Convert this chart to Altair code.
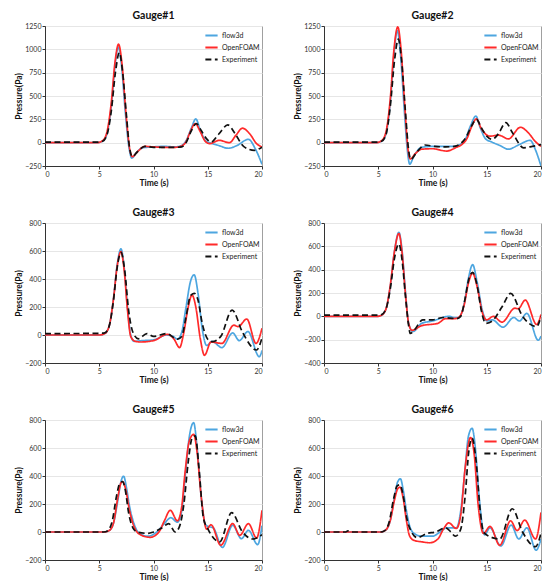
import altair as alt
import pandas as pd

SERIES = ["flow3d", "OpenFOAM", "Experiment"]
COLORS = ["#4da6e0", "#ff2a2a", "#111111"]
DASHES = [[1, 0], [1, 0], [6, 3.5]]

# ---------------- Gauge#1 ----------------
G1_T_F = [0, 4.8, 5.3, 5.7, 6.1, 6.45, 6.75, 7.05, 7.4, 7.75, 8.0, 8.4, 9.0, 10.0, 11.0, 12.0, 12.6, 13.0, 13.5, 13.9, 14.3, 14.8, 15.3, 16.0, 16.9, 17.7, 18.75, 19.4, 20]
G1_P_F = [0, 0, 15, 90, 380, 820, 1025, 830, 330, -60, -165, -110, -55, -45, -40, -45, -30, 20, 160, 255, 140, 20, -5, -30, -60, -30, 36, -70, -232]
G1_T_O = [0, 4.8, 5.3, 5.7, 6.1, 6.45, 6.78, 7.1, 7.45, 7.8, 8.05, 8.5, 9.2, 10.0, 11.0, 12.0, 12.5, 13.0, 13.4, 13.85, 14.3, 14.8, 15.2, 16.05, 17.0, 17.6, 18.2, 18.9, 19.5, 20]
G1_P_O = [0, 0, 20, 110, 420, 860, 1055, 840, 330, -60, -150, -100, -40, -45, -50, -50, -40, 10, 120, 205, 120, 10, -10, 25, 0, 80, 155, 90, -10, -46]
G1_T_E = [0, 4.8, 5.3, 5.7, 6.1, 6.5, 6.85, 7.15, 7.5, 7.8, 8.05, 8.5, 9.2, 10.0, 11.0, 12.0, 12.6, 13.0, 13.5, 13.95, 14.4, 14.9, 15.3, 16.0, 16.85, 17.5, 18.3, 19.3, 20]
G1_P_E = [5, 5, 15, 80, 330, 760, 965, 760, 300, -60, -150, -100, -40, -50, -50, -50, -45, 0, 130, 205, 130, 40, 7, 90, 190, 100, -40, -82, -48]

# ---------------- Gauge#2 ----------------
G2_T_F = [0, 4.8, 5.3, 5.7, 6.1, 6.45, 6.75, 7.05, 7.4, 7.7, 7.9, 8.3, 9.0, 10.0, 11.0, 12.0, 12.6, 13.0, 13.5, 14.0, 14.4, 14.9, 15.4, 16.2, 17.0, 18.0, 19.0, 19.5, 20]
G2_P_F = [0, 0, 15, 90, 420, 950, 1200, 950, 350, -100, -230, -140, -50, -40, -40, -40, -15, 30, 180, 285, 160, 40, 10, -30, -70, -20, 25, -80, -250]
G2_T_O = [0, 4.8, 5.3, 5.7, 6.1, 6.45, 6.8, 7.1, 7.45, 7.75, 7.95, 8.4, 9.0, 10.0, 11.3, 12.2, 12.7, 13.2, 13.6, 14.05, 14.5, 15.3, 16.1, 17.0, 18.1, 18.8, 19.5, 20]
G2_P_O = [0, 0, 20, 110, 460, 1000, 1240, 1000, 380, -80, -175, -120, -70, -65, -90, -50, -20, 50, 170, 255, 150, 70, 80, 40, 165, 110, 10, -40]
G2_T_E = [0, 4.8, 5.3, 5.7, 6.1, 6.5, 6.85, 7.15, 7.5, 7.8, 8.0, 8.5, 9.3, 10.2, 11.2, 12.0, 12.6, 13.1, 13.6, 14.05, 14.5, 15.0, 15.5, 16.1, 16.75, 17.4, 18.4, 19.2, 20]
G2_P_E = [5, 5, 15, 80, 380, 880, 1110, 880, 340, -80, -180, -110, -25, -40, -45, -40, -10, 60, 180, 250, 160, 70, 35, 100, 215, 100, -55, -40, -20]

# ---------------- Gauge#3 ----------------
G3_T_F = [0, 5.0, 5.5, 5.9, 6.3, 6.65, 7.0, 7.3, 7.6, 7.9, 8.2, 9.0, 10.0, 11.2, 11.8, 12.2, 12.6, 13.0, 13.4, 13.75, 14.1, 14.5, 14.9, 15.4, 16.3, 17.3, 17.9, 18.7, 19.75, 20]
G3_P_F = [0, 0, 10, 60, 250, 500, 615, 480, 200, 0, -45, -40, -35, 0, -10, -30, 20, 200, 380, 430, 300, 40, -75, -45, -90, 15, -40, 25, -155, -110]
G3_T_O = [0, 5.0, 5.5, 5.9, 6.3, 6.65, 7.0, 7.3, 7.6, 7.9, 8.3, 8.8, 10.0, 11.3, 11.9, 12.4, 12.8, 13.2, 13.55, 13.9, 14.3, 14.7, 15.3, 16.3, 17.4, 17.8, 18.6, 19.45, 20]
G3_P_O = [0, 0, 10, 60, 250, 490, 595, 460, 180, -10, -45, -50, -40, 5, -30, -90, 20, 200, 285, 200, -20, -145, -50, -60, 70, 60, 114, -60, 48]
G3_T_E = [0, 5.0, 5.5, 5.9, 6.3, 6.65, 7.0, 7.35, 7.7, 8.1, 8.6, 9.4, 10.0, 11.2, 12.2, 12.6, 13.0, 13.4, 13.75, 14.1, 14.5, 15.0, 15.4, 16.2, 17.25, 18.2, 19.5, 20]
G3_P_E = [10, 12, 15, 60, 240, 480, 590, 460, 180, 20, -27, 10, -10, 10, -30, -10, 130, 280, 298, 250, 80, -30, -48, -10, 178, 20, -107, -20]

# ---------------- Gauge#4 ----------------
G4_T_F = [0, 4.9, 5.3, 5.7, 6.1, 6.5, 6.9, 7.2, 7.5, 7.8, 8.2, 9.0, 10.0, 11.5, 12.0, 12.4, 12.9, 13.3, 13.7, 14.1, 14.6, 15.0, 15.5, 16.5, 17.5, 18.0, 18.7, 19.75, 20]
G4_P_F = [0, 0, 10, 60, 250, 560, 720, 560, 220, -60, -130, -60, -40, 0, -10, -10, 100, 320, 443, 300, 50, -40, -30, -93, -10, -40, 25, -205, -170]
G4_T_O = [0, 4.9, 5.3, 5.7, 6.1, 6.5, 6.9, 7.2, 7.5, 7.8, 8.1, 9.0, 10.5, 11.2, 12.0, 12.4, 12.9, 13.3, 13.7, 14.1, 14.6, 15.0, 15.6, 16.4, 17.6, 17.9, 18.55, 19.6, 20]
G4_P_O = [0, 0, 10, 60, 260, 560, 710, 540, 200, -60, -120, -80, -60, -20, -20, -10, 90, 280, 370, 260, 30, -30, 0, -50, 70, 65, 139, -70, 15]
G4_T_E = [0, 4.9, 5.3, 5.7, 6.1, 6.5, 6.9, 7.2, 7.5, 7.8, 7.95, 8.3, 9.1, 10.0, 11.0, 12.2, 12.6, 13.0, 13.35, 13.7, 14.1, 14.5, 14.9, 15.5, 16.4, 17.2, 18.3, 19.6, 20]
G4_P_E = [10, 10, 15, 60, 230, 500, 621, 480, 180, -80, -147, -120, -31, -30, -10, -20, 0, 150, 320, 377, 270, 50, -60, -40, 80, 196, 0, -88, 0]

# ---------------- Gauge#5 ----------------
G5_T_F = [0, 5.4, 5.9, 6.3, 6.7, 7.0, 7.25, 7.5, 7.8, 8.2, 8.7, 9.5, 10.3, 11.0, 11.6, 12.2, 12.6, 12.9, 13.3, 13.7, 14.0, 14.4, 14.8, 15.2, 15.5, 16.35, 17.3, 18.1, 18.75, 19.6, 20]
G5_P_F = [0, 0, 10, 60, 220, 360, 398, 320, 180, 60, -10, -30, 0, 60, 102, 70, 150, 380, 680, 781, 620, 250, 50, 36, 30, -110, 48, -48, 12, -90, 45]
G5_T_O = [0, 5.4, 5.9, 6.3, 6.7, 7.0, 7.15, 7.45, 7.8, 8.2, 8.8, 9.7, 10.5, 11.0, 11.55, 12.2, 12.6, 12.9, 13.3, 13.7, 14.0, 14.4, 14.9, 15.3, 16.2, 17.3, 17.95, 18.75, 19.5, 20]
G5_P_O = [0, 0, 10, 60, 240, 350, 360, 300, 150, 40, -20, -38, 0, 80, 155, 80, 180, 420, 650, 698, 580, 250, 20, 52, -95, 60, -24, 60, -43, 155]
G5_T_E = [0, 5.4, 5.8, 6.2, 6.6, 6.9, 7.15, 7.4, 7.7, 8.1, 8.5, 9.5, 10.0, 10.8, 11.4, 12.0, 12.4, 12.8, 13.2, 13.55, 13.85, 14.2, 14.6, 15.0, 16.1, 17.2, 18.2, 19.15, 20]
G5_P_E = [0, 0, 10, 80, 260, 350, 360, 300, 140, 30, 0, -10, 0, 30, 60, 0, 40, 200, 500, 670, 687, 450, 100, 24, -71, 138, 0, -50, -20]

# ---------------- Gauge#6 ----------------
G6_T_F = [0, 5.2, 5.7, 6.1, 6.5, 6.8, 7.05, 7.3, 7.6, 8.0, 8.5, 9.0, 10.0, 10.7, 11.3, 12.2, 12.6, 13.0, 13.3, 13.65, 13.95, 14.3, 14.8, 15.3, 16.3, 17.25, 17.95, 18.7, 19.55, 20]
G6_P_F = [0, 0, 15, 80, 250, 360, 380, 300, 150, 20, -20, -30, -30, 0, 30, 30, 150, 450, 680, 741, 600, 250, -20, 30, -100, 50, -50, 30, -130, -50]
G6_T_O = [0, 5.2, 5.7, 6.1, 6.5, 6.8, 7.0, 7.3, 7.6, 7.9, 8.3, 9.0, 9.75, 10.5, 11.0, 11.5, 12.2, 12.6, 13.0, 13.5, 13.85, 14.2, 14.7, 15.3, 16.2, 17.2, 17.8, 18.5, 19.5, 20]
G6_P_O = [0, 0, 15, 80, 230, 310, 320, 240, 80, -30, -60, -70, -77, -50, 20, 65, 25, 120, 450, 675, 550, 200, -10, 40, -95, 80, 10, 85, -50, 140]
G6_T_E = [0, 2.0, 2.2, 2.4, 5.2, 5.6, 6.0, 6.4, 6.75, 7.0, 7.3, 7.6, 8.0, 8.6, 9.5, 10.3, 11.2, 11.7, 12.1, 12.6, 13.0, 13.35, 13.65, 14.0, 14.4, 14.7, 15.5, 16.2, 17.35, 18.3, 19.5, 20]
G6_P_E = [0, 0, 8, 0, 0, 10, 70, 230, 330, 337, 260, 110, 10, -40, -10, 0, 30, 0, -30, 20, 250, 580, 670, 520, 150, 0, -40, -50, 166, 0, -105, -10]

GAUGES = [
    (1, [(G1_T_F, G1_P_F), (G1_T_O, G1_P_O), (G1_T_E, G1_P_E)], [-250, 1250], [-250, 0, 250, 500, 750, 1000, 1250]),
    (2, [(G2_T_F, G2_P_F), (G2_T_O, G2_P_O), (G2_T_E, G2_P_E)], [-250, 1250], [-250, 0, 250, 500, 750, 1000, 1250]),
    (3, [(G3_T_F, G3_P_F), (G3_T_O, G3_P_O), (G3_T_E, G3_P_E)], [-200, 800], [-200, 0, 200, 400, 600, 800]),
    (4, [(G4_T_F, G4_P_F), (G4_T_O, G4_P_O), (G4_T_E, G4_P_E)], [-400, 800], [-400, -200, 0, 200, 400, 600, 800]),
    (5, [(G5_T_F, G5_P_F), (G5_T_O, G5_P_O), (G5_T_E, G5_P_E)], [-200, 800], [-200, 0, 200, 400, 600, 800]),
    (6, [(G6_T_F, G6_P_F), (G6_T_O, G6_P_O), (G6_T_E, G6_P_E)], [-200, 800], [-200, 0, 200, 400, 600, 800]),
]
X_TICKS = [0, 5, 10, 15, 20]


def panel(num, curves, ydom, yticks):
    layers = []
    for name, (ts, ps) in zip(SERIES, curves):
        df = pd.DataFrame({"t": ts, "p": ps, "series": name})
        layers.append(
            alt.Chart(df)
            .mark_line(interpolate="monotone", strokeWidth=1.7, clip=True)
            .encode(
                x=alt.X("t:Q", scale=alt.Scale(domain=[0, 20], nice=False),
                        axis=alt.Axis(values=X_TICKS, title="Time (s)", grid=False, format="d")),
                y=alt.Y("p:Q", scale=alt.Scale(domain=ydom, nice=False),
                        axis=alt.Axis(values=yticks, title="Pressure(Pa)", format="d")),
                color=alt.Color("series:N", scale=alt.Scale(domain=SERIES, range=COLORS),
                                legend=alt.Legend(title=None)),
                strokeDash=alt.StrokeDash("series:N", scale=alt.Scale(domain=SERIES, range=DASHES),
                                          legend=alt.Legend(title=None)),
            )
        )
    return alt.layer(*layers).properties(width=217, height=140, title=f"Gauge#{num}")


chart = (
    alt.concat(*[panel(*g) for g in GAUGES], columns=2, spacing={"row": 20, "column": 30})
    .resolve_scale(color="independent", strokeDash="independent")
    .properties(padding={"left": 6, "top": 2, "right": 0, "bottom": 0})
    .configure(font="Lato")
    .configure_view(stroke="#a0a0a0", strokeWidth=1)
    .configure_title(fontSize=10.5, fontWeight="bold", font="Lato", color="#111", offset=1, frame="group")
    .configure_axis(
        labelFont="Lato", labelFontSize=7, labelColor="#333",
        titleFont="Lato", titleFontSize=8.5, titleFontWeight="bold", titleColor="#111",
        domainColor="#333", tickColor="#333", tickSize=3, labelPadding=1,
        gridColor="#e6e6e6", gridWidth=1,
    )
    .configure_axisX(titlePadding=1)
    .configure_axisY(titlePadding=1)
    .configure_legend(
        orient="top-right", offset=2, padding=0, labelFont="Lato", labelFontSize=7,
        labelColor="#222", symbolType="stroke", symbolSize=150, symbolStrokeWidth=2,
        rowPadding=-9, labelOffset=3,
    )
)

chart.save("out.html", embed_options={"renderer": "svg", "actions": False})
